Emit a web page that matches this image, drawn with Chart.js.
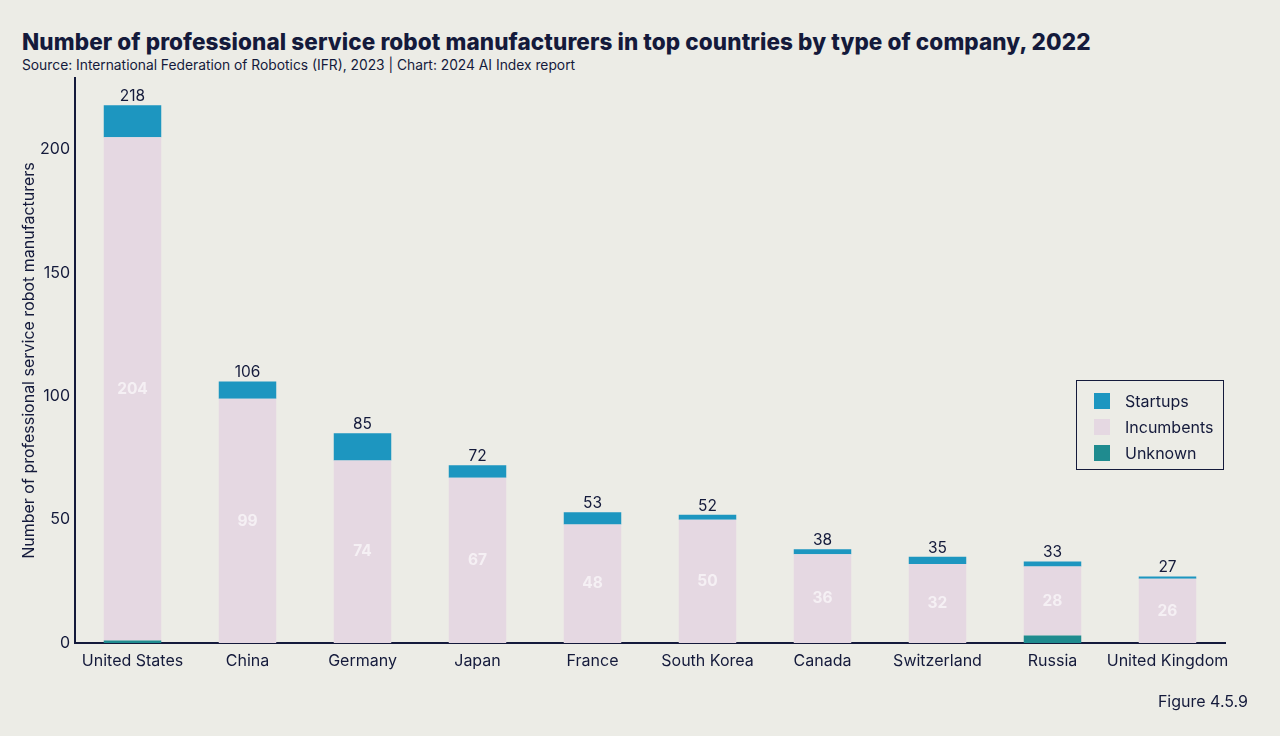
<!DOCTYPE html>
<html>
<head>
<meta charset="utf-8">
<script src="https://cdn.jsdelivr.net/npm/chart.js"></script>
<style>
  html, body { margin: 0; padding: 0; background: #ecece6; }
  body { width: 1280px; height: 736px; position: relative; overflow: hidden; font-family: Inter, "Noto Sans", sans-serif; color: #141a3b; }
  #title { position: absolute; left: 22px; top: 28px; font-size: 22.5px; font-weight: 800; letter-spacing: 0.1px; white-space: nowrap; }
  #subtitle { position: absolute; left: 22px; top: 57px; font-size: 13.8px; white-space: nowrap; }
  #figure { position: absolute; right: 32px; top: 691px; font-size: 16px; }
  #wrap { position: absolute; left: 0; top: 0; width: 1280px; height: 736px; }
  #legend { position: absolute; left: 1076px; top: 380px; width: 148px; height: 90px; border: 1.5px solid #141a3b; box-sizing: border-box; padding: 10px 0 0 17px; }
  #legend div { height: 26px; line-height: 20px; font-size: 16px; display: flex; align-items: flex-start; }
  #legend span.sw { width: 16px; height: 16px; margin: 2px 15px 0 0; display: inline-block; }
</style>
</head>
<body>
<div id="title">Number of professional service robot manufacturers in top countries by type of company, 2022</div>
<div id="subtitle">Source: International Federation of Robotics (IFR), 2023 | Chart: 2024 AI Index report</div>
<div id="wrap"><canvas id="chart"></canvas></div>
<div id="legend"></div>
<div id="figure">Figure 4.5.9</div>
<script>
// 資料
const countries = ['United States', 'China', 'Germany', 'Japan', 'France', 'South Korea', 'Canada', 'Switzerland', 'Russia', 'United Kingdom'];
const unknown    = [1, 0, 0, 0, 0, 0, 0, 0, 3, 0];
const incumbents = [204, 99, 74, 67, 48, 50, 36, 32, 28, 26];
const startups   = [13, 7, 11, 5, 5, 2, 2, 3, 2, 1];

const ink = '#141a3b';
const font = 'Inter, "Noto Sans", sans-serif';

// 數值標籤
const labelPlugin = {
    id: 'labels',
    afterDatasetsDraw(chart) {
        const ctx = chart.ctx;
        const incMeta = chart.getDatasetMeta(1);
        const topMeta = chart.getDatasetMeta(2);
        ctx.save();
        ctx.textAlign = 'center';
        countries.forEach((c, i) => {
            const total = unknown[i] + incumbents[i] + startups[i];
            const top = topMeta.data[i];
            ctx.fillStyle = ink;
            ctx.font = '15.5px ' + font;
            ctx.textBaseline = 'bottom';
            ctx.fillText(total, top.x, top.y - 1);
            const inc = incMeta.data[i];
            ctx.fillStyle = '#f5f0f4';
            ctx.font = 'bold 15.5px ' + font;
            ctx.textBaseline = 'middle';
            ctx.fillText(incumbents[i], inc.x, (inc.y + inc.base) / 2);
        });
        ctx.restore();
    }
};

const chart = new Chart(document.getElementById('chart'), {
    type: 'bar',
    data: {
        labels: countries,
        datasets: [{
            label: 'Unknown',
            data: unknown,
            backgroundColor: '#1f8b8f'
        }, {
            label: 'Incumbents',
            data: incumbents,
            backgroundColor: '#e5d8e2'
        }, {
            label: 'Startups',
            data: startups,
            backgroundColor: '#1d96c0'
        }]
    },
    options: {
        responsive: true,
        maintainAspectRatio: false,
        animation: false,
        layout: {
            padding: { left: 20, right: 55, top: 78, bottom: 0 }
        },
        datasets: {
            bar: { barPercentage: 0.5, categoryPercentage: 1 }
        },
        scales: {
            x: {
                stacked: true,
                grid: { display: false },
                border: { display: true, color: ink, width: 2 },
                ticks: { color: ink, font: { family: font, size: 16 }, padding: 1, maxRotation: 0, autoSkip: false },
                afterFit(scale) { scale.height = 93; }
            },
            y: {
                stacked: true,
                min: 0,
                max: 229,
                grid: { display: false, drawTicks: false },
                border: { display: true, color: ink, width: 2 },
                ticks: { color: ink, font: { family: font, size: 16 }, padding: 5, stepSize: 50 },
                afterBuildTicks(scale) { scale.ticks = scale.ticks.filter(t => t.value % 50 === 0); },
                afterFit(scale) { scale.width = 55; },
                title: {
                    display: true,
                    text: 'Number of professional service robot manufacturers',
                    color: ink,
                    font: { family: font, size: 16 },
                    padding: { top: 0, bottom: 4 }
                }
            }
        },
        plugins: {
            legend: { display: false },
            tooltip: { enabled: false }
        }
    },
    plugins: [labelPlugin]
});

// 圖例
const legend = document.getElementById('legend');
chart.data.datasets.slice().reverse().forEach(ds => {
    const row = document.createElement('div');
    row.innerHTML = '<span class="sw" style="background:' + ds.backgroundColor + '"></span>' + ds.label;
    legend.appendChild(row);
});
</script>
</body>
</html>
